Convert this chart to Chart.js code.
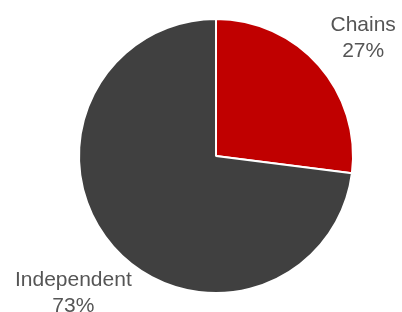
<!DOCTYPE html>
<html>
<head>
<meta charset="utf-8">
<script src="https://cdn.jsdelivr.net/npm/chart.js@4/dist/chart.umd.min.js"></script>
<style>
html,body{margin:0;padding:0;background:#fff;}
#wrap{width:402px;height:312px;position:relative;}
</style>
</head>
<body>
<div id="wrap"><canvas id="c" width="402" height="312"></canvas></div>
<script>
const categories = ["Chains", "Independent"];
const shares = [27, 73];
const sliceColors = ["#c00000", "#404040"];

const outsideLabels = {
  id: 'outsideLabels',
  afterDraw(chart) {
    const ctx = chart.ctx;
    const meta = chart.getDatasetMeta(0);
    const total = shares.reduce((a, b) => a + b, 0);
    ctx.save();
    ctx.font = '21px "Liberation Sans", Arial, sans-serif';
    ctx.fillStyle = '#555555';
    ctx.textAlign = 'center';
    ctx.textBaseline = 'alphabetic';
    meta.data.forEach((arc, i) => {
      const mid = (arc.startAngle + arc.endAngle) / 2;
      const r = arc.outerRadius * 1.41;
      const x = arc.x + 2.25 + Math.cos(mid) * r;
      const y = arc.y + 15.5 + Math.sin(mid) * r;
      const pct = Math.round(shares[i] / total * 100) + '%';
      ctx.fillText(categories[i], x, y - 13);
      ctx.fillText(pct, x, y + 13);
    });
    ctx.restore();
  }
};

new Chart(document.getElementById('c'), {
  type: 'pie',
  data: {
    labels: categories,
    datasets: [{
      data: shares,
      backgroundColor: sliceColors,
      borderColor: '#ffffff',
      borderWidth: 2
    }]
  },
  options: {
    responsive: false,
    animation: false,
    layout: { padding: { left: 78, right: 48, top: 18, bottom: 18 } },
    plugins: { legend: { display: false }, tooltip: { enabled: false } }
  },
  plugins: [outsideLabels]
});
</script>
</body>
</html>
